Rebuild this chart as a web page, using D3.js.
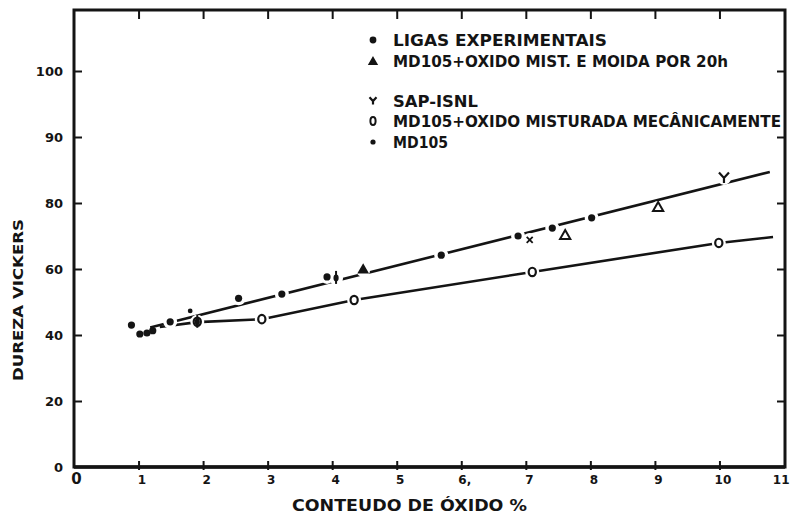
<!DOCTYPE html>
<html>
<head>
<meta charset="utf-8">
<script src="https://cdn.jsdelivr.net/npm/d3@7"></script>
<style>
  html, body { margin: 0; padding: 0; background: #fff; }
  svg { display: block; }
  text { font-family: "DejaVu Sans", sans-serif; font-weight: bold; fill: #141414; }
</style>
</head>
<body>
<div id="chart"></div>
<script>
// Dureza Vickers em função do conteúdo de óxido (%)
const xTicks = [0, 1, 2, 3, 4, 5, 6, 7, 8, 9, 10, 11];
const xTickLabels = ["0", "1", "2", "3", "4", "5", "6,", "7", "8", "9", "10", "11"];
const yTicks = [0, 20, 40, 60, 80, 100, 120];
const yTickLabels = ["0", "20", "40", "60", "80", "90", "100"];

// [conteúdo de óxido %, dureza]
const ligasExperimentais = [[0.89, 43.0], [1.02, 40.3], [1.13, 40.6], [1.22, 41.3], [1.49, 44.0],
  [2.55, 51.1], [3.22, 52.4], [3.92, 57.6], [5.69, 64.2], [6.88, 70.0], [7.41, 72.4], [8.02, 75.5]];
const moida20h = [[4.48, 59.7], [7.61, 70.0], [9.05, 78.5]];
const sap = [[10.07, 87.6]];
const sapCruz = [[7.06, 68.8]];
const misturada = [[1.91, 44.0], [2.91, 44.8], [4.34, 50.6], [7.10, 59.1], [9.99, 67.9]];
const md105 = [[1.80, 47.3]];
const marcasBarra = [[1.91, 44.0], [4.06, 57.3]];

const linhaSuperior = [[1.18, 42.3], [10.78, 89.4]];
const linhaInferior = [[1.33, 42.4], [1.91, 43.9], [2.91, 44.8], [4.34, 50.6], [7.10, 59.1], [9.99, 67.9], [10.83, 69.7]];

const legendaTextos = ["LIGAS EXPERIMENTAIS", "MD105+OXIDO MIST. E MOIDA POR 20h", "SAP-ISNL",
  "MD105+OXIDO MISTURADA MECÂNICAMENTE", "MD105"];

const W = 790, H = 522;
const ink = "#141414";
const svg = d3.select("#chart").append("svg").attr("width", W).attr("height", H);
svg.append("rect").attr("width", W).attr("height", H).attr("fill", "#fff");

const frame = { left: 74, right: 785, top: 10, bottom: 467 };
const x = d3.scaleLinear().domain([0, 11]).range([74, 784]);
const y = d3.scaleLinear().domain([0, 120]).range([467, 71]);

// moldura
svg.append("path")
  .attr("d", `M${frame.left},${frame.bottom} V${frame.top} H${frame.right} V${frame.bottom} Z`)
  .attr("fill", "none").attr("stroke", ink).attr("stroke-width", 3);
svg.append("line").attr("x1", frame.left).attr("x2", frame.right)
  .attr("y1", frame.bottom).attr("y2", frame.bottom).attr("stroke", ink).attr("stroke-width", 3.5);

// eixo x (inferior) com marcas cruzando a linha
const xAxis = d3.axisBottom(x).tickValues(xTicks)
  .tickFormat((d, i) => xTickLabels[i]).tickSizeInner(-9).tickSizeOuter(0).tickPadding(14);
const gx = svg.append("g").attr("transform", `translate(0,${frame.bottom + 3})`).call(xAxis);
gx.select(".domain").remove();
gx.selectAll(".tick line").attr("stroke", ink).attr("stroke-width", 2)
  .filter(d => d === 0 || d === 11).remove();
gx.selectAll(".tick text").attr("font-size", 12).attr("dx", 3).attr("dy", 0);
gx.selectAll(".tick").filter(d => d === 0).select("text")
  .attr("font-size", 15).attr("font-weight", "normal").attr("dx", 2).attr("dy", 0);
gx.selectAll(".tick").filter(d => d === 11).select("text")
  .attr("text-anchor", "end").attr("dx", 5);

// marcas no topo
const xTop = d3.axisTop(x).tickValues(xTicks.filter(d => d > 0 && d < 11))
  .tickSizeInner(-9).tickSizeOuter(0).tickFormat("");
const gxt = svg.append("g").attr("transform", `translate(0,${frame.top})`).call(xTop);
gxt.select(".domain").remove();
gxt.selectAll(".tick line").attr("stroke", ink).attr("stroke-width", 2);

// eixo y (esquerdo), marcas para dentro
const yAxis = d3.axisLeft(y).tickValues(yTicks)
  .tickFormat((d, i) => yTickLabels[i]).tickSizeInner(-8).tickSizeOuter(0).tickPadding(11);
const gy = svg.append("g").attr("transform", `translate(${frame.left},0)`).call(yAxis);
gy.select(".domain").remove();
gy.selectAll(".tick line").attr("stroke", ink).attr("stroke-width", 2)
  .filter(d => d === 0).remove();
gy.selectAll(".tick text").attr("font-size", 13);

// marcas no lado direito
const yRight = d3.axisRight(y).tickValues(yTicks.filter(d => d > 0))
  .tickSizeInner(-8).tickSizeOuter(0).tickFormat("");
const gyr = svg.append("g").attr("transform", `translate(${frame.right},0)`).call(yRight);
gyr.select(".domain").remove();
gyr.selectAll(".tick line").attr("stroke", ink).attr("stroke-width", 2);

// títulos dos eixos
svg.append("text").attr("x", 292).attr("y", 511).attr("font-size", 15)
  .attr("textLength", 235).attr("lengthAdjust", "spacingAndGlyphs")
  .text("CONTEUDO DE ÓXIDO %");
svg.append("text").attr("transform", "translate(23,300) rotate(-90)")
  .attr("text-anchor", "middle").attr("font-size", 14)
  .attr("textLength", 162).attr("lengthAdjust", "spacingAndGlyphs")
  .text("DUREZA VICKERS");

// retas
const line = d3.line().x(d => x(d[0])).y(d => y(d[1]));
svg.append("path").datum(linhaSuperior).attr("d", line)
  .attr("fill", "none").attr("stroke", ink).attr("stroke-width", 2.6);
svg.append("path").datum(linhaInferior).attr("d", line)
  .attr("fill", "none").attr("stroke", ink).attr("stroke-width", 2.6);

// interrupções das retas em volta dos pontos
const todos = [].concat(ligasExperimentais.slice(4), moida20h, sap, sapCruz, misturada, marcasBarra.slice(1));
svg.append("g").selectAll("circle").data(todos).join("circle")
  .attr("cx", d => x(d[0])).attr("cy", d => y(d[1])).attr("r", 7).attr("fill", "#fff");

// símbolos
const g = svg.append("g");
g.selectAll(".lig").data(ligasExperimentais).join("circle")
  .attr("cx", d => x(d[0])).attr("cy", d => y(d[1])).attr("r", 3.6).attr("fill", ink);
g.selectAll(".md").data(md105).join("circle")
  .attr("cx", d => x(d[0])).attr("cy", d => y(d[1])).attr("r", 2.4).attr("fill", ink);
g.selectAll(".mist").data(misturada).join("ellipse")
  .attr("cx", d => x(d[0])).attr("cy", d => y(d[1])).attr("rx", 3.6).attr("ry", 4.2)
  .attr("fill", "#fff").attr("stroke", ink).attr("stroke-width", 2.2);
g.selectAll(".bar").data(marcasBarra).join("g").each(function (d) {
  const s = d3.select(this), cx = x(d[0]), cy = y(d[1]);
  s.append("line").attr("x1", cx).attr("x2", cx).attr("y1", cy - 7).attr("y2", cy + 6)
    .attr("stroke", ink).attr("stroke-width", 2);
  s.append("ellipse").attr("cx", cx).attr("cy", cy).attr("rx", 2.6).attr("ry", 3.4).attr("fill", ink);
});
const tri = d3.symbol().type(d3.symbolTriangle);
g.selectAll(".tri").data(moida20h).join("path")
  .attr("transform", d => `translate(${x(d[0])},${y(d[1])})`)
  .attr("d", (d, i) => tri.size(i === 0 ? 30 : 45)())
  .attr("fill", (d, i) => i === 0 ? ink : "#fff").attr("stroke", ink).attr("stroke-width", 2);
function ySymbol(sel, cx, cy, s) {
  sel.append("path")
    .attr("d", `M${cx - s},${cy - s * 1.1} L${cx},${cy} L${cx + s},${cy - s * 1.1} M${cx},${cy} V${cy + s}`)
    .attr("fill", "none").attr("stroke", ink).attr("stroke-width", 2.2);
}
sap.forEach(d => ySymbol(g, x(d[0]), y(d[1]), 5));
g.selectAll(".cruz").data(sapCruz).join("path")
  .attr("d", d => { const cx = x(d[0]), cy = y(d[1]);
    return `M${cx - 3},${cy - 3} L${cx + 3},${cy + 3} M${cx + 3},${cy - 3} L${cx - 3},${cy + 3}`; })
  .attr("stroke", ink).attr("stroke-width", 1.8);

// legenda
const legY = [40, 61, 101, 121, 142];
const legLen = [214, 335, 85, 388, 55];
const lg = svg.append("g");
legendaTextos.forEach((t, i) => {
  lg.append("text").attr("x", 393).attr("y", legY[i] + 6).attr("font-size", 15)
    .attr("textLength", legLen[i]).attr("lengthAdjust", "spacingAndGlyphs").text(t);
});
lg.append("circle").attr("cx", 373).attr("cy", legY[0]).attr("r", 3.4).attr("fill", ink);
lg.append("path").attr("transform", `translate(373,${legY[1] + 1})`).attr("d", tri.size(26)()).attr("fill", ink)
  .attr("stroke", ink).attr("stroke-width", 1.5);
ySymbol(lg, 373, legY[2], 3.5);
lg.append("ellipse").attr("cx", 373).attr("cy", legY[3]).attr("rx", 2.6).attr("ry", 4)
  .attr("fill", "#fff").attr("stroke", ink).attr("stroke-width", 2);
lg.append("circle").attr("cx", 373).attr("cy", legY[4]).attr("r", 2.6).attr("fill", ink);
</script>
</body>
</html>
